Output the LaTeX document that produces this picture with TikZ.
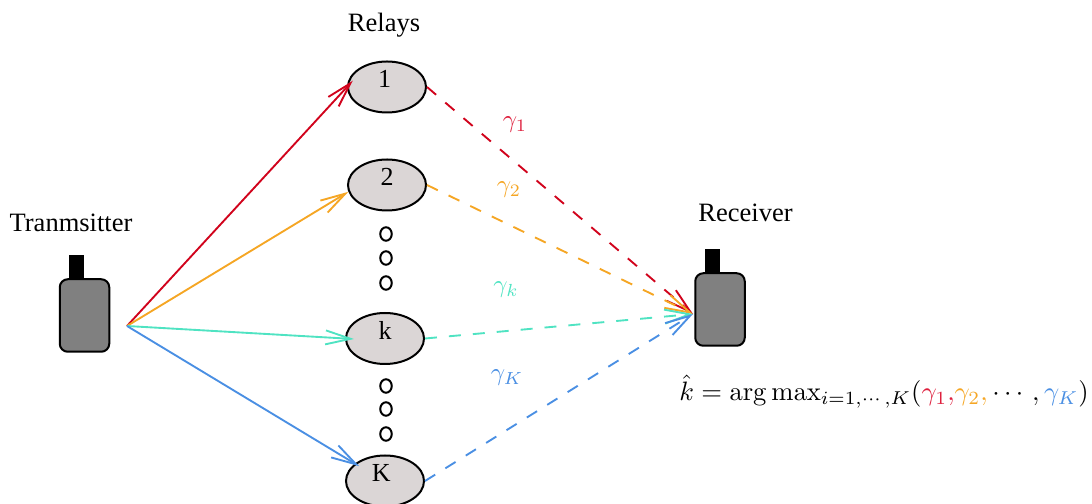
\documentclass[tikz,border=0pt]{standalone}
\usepackage{amsmath}
\usepackage[no-math]{fontspec}
\setmainfont{Liberation Serif}
\definecolor{linkred}{rgb}{0.82, 0.01,  0.11}
\definecolor{gammared}{rgb}{0.87, 0.12,  0.24}
\definecolor{linkorange}{rgb}{0.96, 0.65,  0.14}
\definecolor{linkteal}{rgb}{0.31, 0.89,  0.76}
\definecolor{linkblue}{rgb}{0.29, 0.56,  0.89}
\definecolor{relayfill}{rgb}{0.86, 0.84,  0.84}
\usetikzlibrary{arrows.meta,shapes.geometric,positioning}
\tikzset{
	relay/.style={
		ellipse,
		draw=black,
		line width=0.8pt,
		fill=relayfill,
		inner sep=0pt,
		minimum width=31.2pt,
		minimum height=20.4pt,
		text height=7pt,
		text depth=6.4pt,
		font=\fontsize{10.4}{12}\selectfont
	},
	dotnode/.style={
		ellipse,
		draw=black,
		line width=0.8pt,
		inner sep=0pt,
		minimum width=4.6pt,
		minimum height=5.4pt
	},
	radio/.style={
		rectangle,
		rounded corners=3.2pt,
		draw=black,
		line width=0.8pt,
		fill=gray,
		minimum width=19.8pt,
		minimum height=29pt
	},
	antenna/.style={
		rectangle,
		fill=black,
		inner sep=0pt,
		minimum width=6pt,
		minimum height=9.6pt
	},
	caption/.style={
		font=\fontsize{10.6}{12}\selectfont
	},
	hop/.style={
		line width=0.75pt,
		->,
		>={Straight Barb[length=10pt,width=5.6pt]},
		shorten >=-3pt
	},
	relayed/.style={
		hop,
		shorten >=0pt,
		dash pattern=on 4.8pt off 4.8pt
	},
}
\begin{document}
\begin{tikzpicture}[x=0.4pt,y=-0.4pt]
	\useasboundingbox (0,0) rectangle (1092,504);
	\node [antenna] (txant) at (76.5,267) {};
	\node [radio] (tx) at (84.5,315.5) {};
	\node [antenna] (rxant) at (712.5,261) {};
	\node [radio] (rx) at (720,309.5) {};
	\coordinate (txout) at (127,326);
	\coordinate (rxin) at (693,314);

	\node [relay] (r1) at (387,87) {1\kern2pt};
	\node [relay] (r2) at (387,185) {2};
	\node [relay] (rk) at (385,338.5) {k};
	\node [relay] (rK) at (385,481) {K\kern3pt};

	\node [dotnode] (d1) at (386,234) {};
	\node [dotnode] (d2) at (386,258) {};
	\node [dotnode] (d3) at (386,283) {};
	\node [dotnode] (d4) at (386,386) {};
	\node [dotnode] (d5) at (386,409) {};
	\node [dotnode] (d6) at (386,434) {};

	\node [caption] (relays) at (384,25) {Relays};
	\node [caption] (txlabel) at (71,223) {Tranmsitter};
	\node [caption] (rxlabel) at (745.5,213) {Receiver};

	\path
	(txout) edge[hop,linkred,shorten >=-3.4pt] (r1.west)
	(txout) edge[hop,linkorange,shorten >=0pt] (r2.190)
	(txout) edge[hop,linkteal,shorten >=-3.6pt] (rk.west)
	(txout) edge[hop,linkblue,shorten >=-2pt] (rK.150)
	(r1.east) edge[relayed,linkred] (rxin)
	(r2.east) edge[relayed,linkorange] (rxin)
	(rk.east) edge[relayed,linkteal] (rxin)
	(rK.east) edge[relayed,linkblue] (rxin)
	;

	\node (g1) at (515,125) {\textcolor{gammared}{$\gamma_1$}};
	\node (g2) at (509,190) {\textcolor{linkorange}{$\gamma_2$}};
	\node (gk) at (506,290) {\textcolor{linkteal}{$\gamma_k$}};
	\node (gK) at (507,378) {\textcolor{linkblue}{$\gamma_K$}};
	\node [inner sep=0pt] (rule) at (884,391.5) {\scalebox{1.065}{$\hat{k}=\arg\max_{i=1,\cdots,K}(\textcolor{gammared}{\gamma_1,}\textcolor{linkorange}{\gamma_2,}\cdots,\textcolor{linkblue}{\gamma_K})$}};
\end{tikzpicture}
\end{document}
